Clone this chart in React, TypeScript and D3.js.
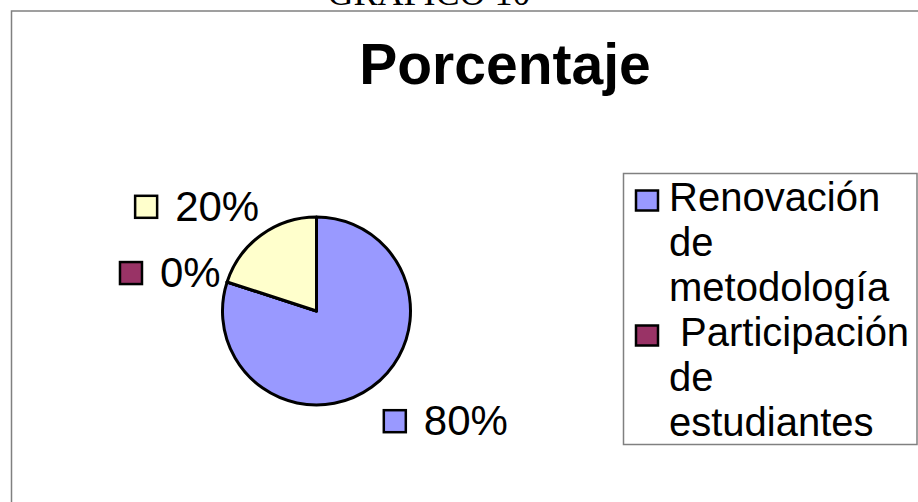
import React, { useRef, useEffect } from "react";
import * as d3 from "d3";

// values
const categories = ["Renovación de metodología", "Participación de estudiantes", "Otros"];
const values = [80, 0, 20];
const colors = ["#9999FF", "#993366", "#FFFFCC"];
// legend wraps each name onto several lines, like the original
const legendLines = [["Renovación", "de", "metodología"], [" Participación", "de", "estudiantes"], ["Otros"]];

const W = 918;
const H = 502;

export default function App() {
    const svgRef = useRef<SVGSVGElement>(null);

    useEffect(() => {
        const svg = d3.select(svgRef.current);
        svg.selectAll("*").remove();
        const font = "Arial, 'Liberation Sans', sans-serif";

        // page heading, cut by the top edge like in the original
        svg.append("text")
            .attr("x", 429).attr("y", 5)
            .attr("text-anchor", "middle")
            .attr("font-family", "'Times New Roman', 'Liberation Serif', serif")
            .attr("font-size", 36)
            .text("GRAFICO 10");

        // chart frame (runs past right and bottom edges)
        svg.append("rect")
            .attr("x", 11.5).attr("y", 11)
            .attr("width", 940).attr("height", 520)
            .attr("fill", "white")
            .attr("stroke", "#808080")
            .attr("stroke-width", 1.5);

        svg.append("text")
            .attr("x", 505).attr("y", 84)
            .attr("text-anchor", "middle")
            .attr("font-family", font)
            .attr("font-weight", "bold")
            .attr("font-size", 57)
            .text("Porcentaje");

        // pie
        const cx = 316.5, cy = 311, r = 94;
        const pie = d3.pie<number>().sort(null).value(d => d);
        const arcs = pie(values);
        const arc = d3.arc<d3.PieArcDatum<number>>().innerRadius(0).outerRadius(r);
        const g = svg.append("g").attr("transform", `translate(${cx},${cy})`);
        g.selectAll("path")
            .data(arcs)
            .join("path")
            .attr("d", arc)
            .attr("fill", (d, i) => colors[i])
            .attr("stroke", "black")
            .attr("stroke-width", 3)
            .attr("stroke-linejoin", "round");

        // data labels: key box + percent, placed outside each slice
        const fmt = d3.format(".0%");
        const total = d3.sum(values);
        arcs.forEach((a, i) => {
            const mid = (a.startAngle + a.endAngle) / 2;
            const lr = r + 12;
            const px = cx + lr * Math.sin(mid);
            const py = cy - lr * Math.cos(mid);
            const lg = svg.append("g");
            lg.append("rect")
                .attr("x", 0).attr("y", -11)
                .attr("width", 22).attr("height", 22)
                .attr("fill", colors[i])
                .attr("stroke", "black")
                .attr("stroke-width", 2.5);
            const t = lg.append("text")
                .attr("x", 40).attr("y", 14)
                .attr("font-family", font)
                .attr("font-size", 42)
                .text(fmt(a.data / total));
            const tw = (t.node() as SVGTextElement).getComputedTextLength();
            const w = 40 + tw;
            const s = Math.sin(mid) >= 0 ? 1 : -1;
            const bx = px + s * w / 2 - w / 2 + 5;
            const by = py - Math.cos(mid) * 26.5 + 3;
            lg.attr("transform", `translate(${bx},${by})`);
        });

        // legend
        const lx = 623.5, ly = 173.5, lw = 293.5, lh = 271;
        svg.append("defs").append("clipPath").attr("id", "legclip")
            .append("rect").attr("x", lx).attr("y", ly).attr("width", lw).attr("height", lh);
        svg.append("rect")
            .attr("x", lx).attr("y", ly).attr("width", lw).attr("height", lh)
            .attr("fill", "white")
            .attr("stroke", "#808080")
            .attr("stroke-width", 1.5);
        const leg = svg.append("g").attr("clip-path", "url(#legclip)");
        const lineH = 45;
        let line = 0;
        categories.forEach((c, i) => {
            const base = ly + 37 + line * lineH;
            leg.append("rect")
                .attr("x", 636).attr("y", base - 20)
                .attr("width", 22).attr("height", 20)
                .attr("fill", colors[i])
                .attr("stroke", "black")
                .attr("stroke-width", 2.5);
            legendLines[i].forEach((l, j) => {
                leg.append("text")
                    .attr("x", 669).attr("y", base + j * lineH)
                    .attr("font-family", font)
                    .attr("font-size", 40)
                    .attr("xml:space", "preserve")
                    .style("white-space", "pre")
                    .text(l);
            });
            line += legendLines[i].length;
        });
    }, []);

    return (
        <svg ref={svgRef} width={W} height={H}
            style={{ position: "fixed", left: 0, top: 0, background: "white" }} />
    );
}
